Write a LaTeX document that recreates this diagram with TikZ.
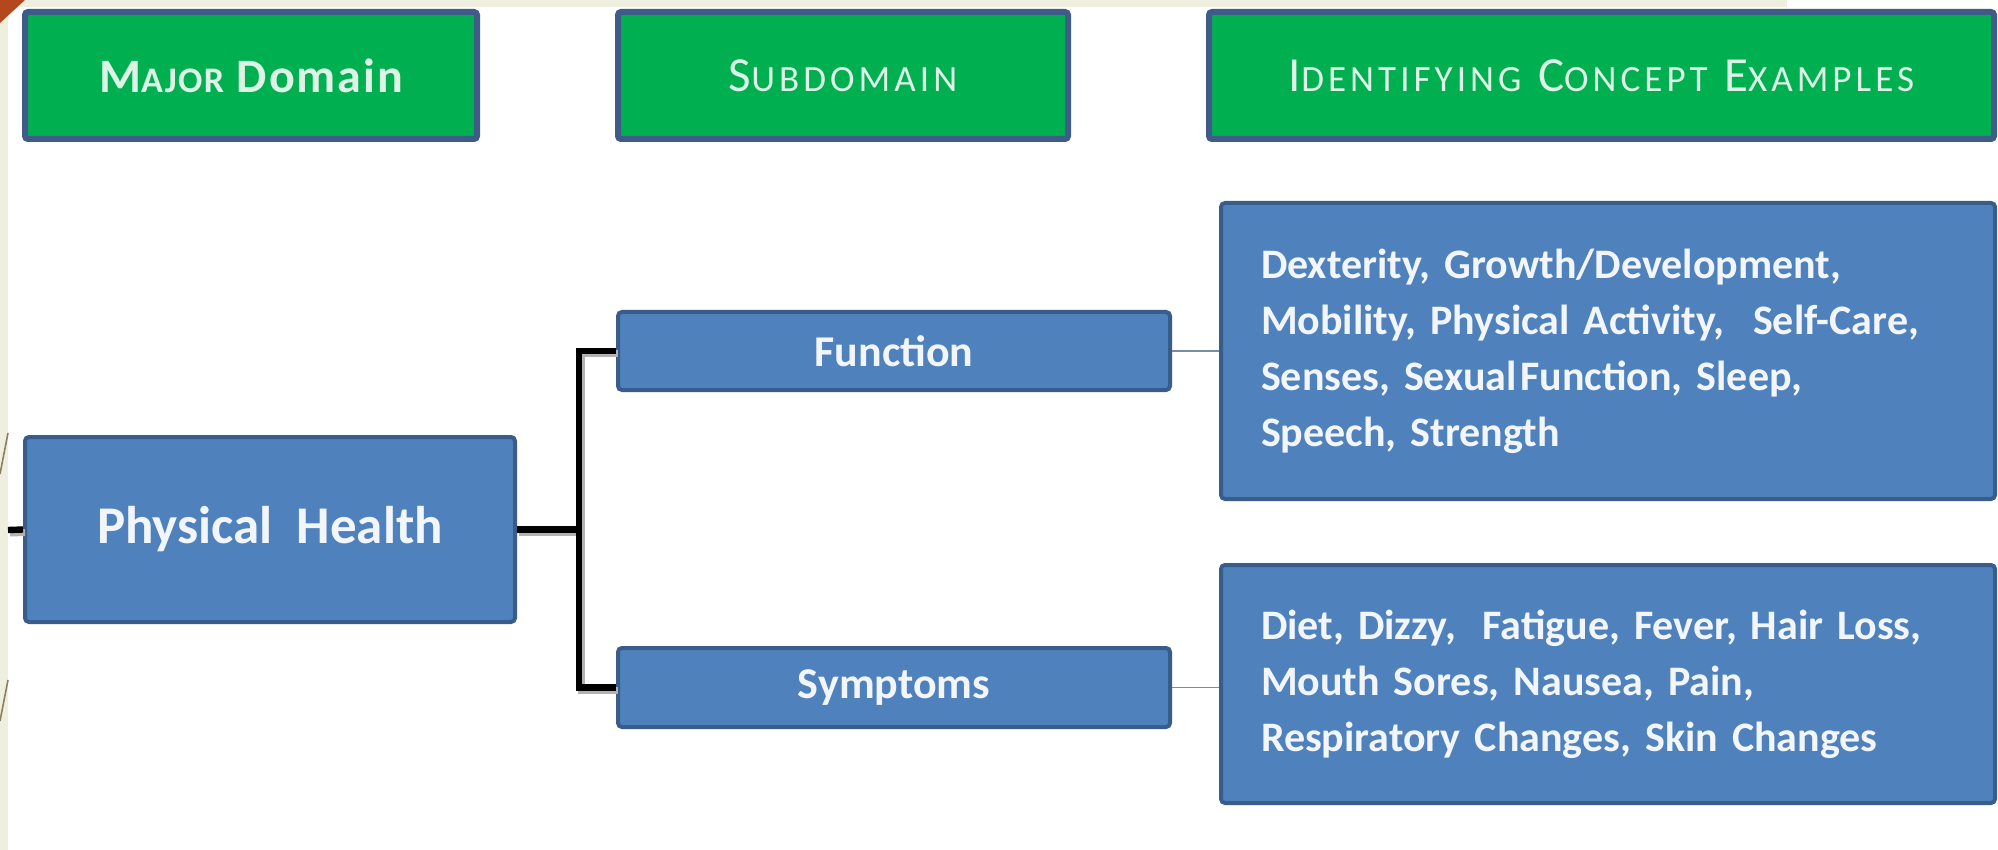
\documentclass[tikz,border=0pt]{standalone}
\usepackage{fontspec}
\setmainfont{Carlito}
\newfontfamily\hdrfont[LetterSpace=11]{Carlito}
\newfontfamily\hdrboldfont[LetterSpace=4]{Carlito Bold}
\usetikzlibrary{calc}
\definecolor{cream}{HTML}{EEEFDF}
\definecolor{rust}{HTML}{B4471C}
\definecolor{hdrgreen}{HTML}{00B050}
\definecolor{hdrline}{HTML}{3E5C87}
\definecolor{boxblue}{HTML}{4F81BD}
\definecolor{boxline}{HTML}{385D8A}
\definecolor{hdrtext}{HTML}{DDF3E6}
\definecolor{boxtext}{HTML}{F2F6FB}
\definecolor{thinline}{HTML}{7A8BA3}
\definecolor{strokeolive}{HTML}{8C7F5E}
\newcommand\hsc[1]{{\fontsize{18.5pt}{20pt}\selectfont #1}}
\begin{document}
\begin{tikzpicture}[x=0.5pt,y=-0.5pt,
  hdr/.style={draw=hdrline, line width=3pt, fill=hdrgreen, rounded corners=1.5pt,
    minimum height=63.5pt, inner sep=0pt, text=hdrtext,
    font=\hdrfont\fontsize{24.5pt}{28pt}\selectfont},
  bluebox/.style={draw=boxline, line width=2pt, fill=boxblue, rounded corners=2pt,
    inner sep=0pt, text=boxtext},
  exbox/.style={bluebox, text width=347pt, inner xsep=20pt, align=left,
    font=\bfseries\fontsize{21pt}{28pt}\selectfont},
  conn/.style={line width=3.2pt, black,
    preaction={draw=black!30, line width=3.5pt, transform canvas={xshift=1pt,yshift=-1.5pt}}},
  thinconn/.style={line width=0.9pt, thinline}
]
\useasboundingbox (0,0) rectangle (1998,850);
\fill[white] (0,0) rectangle (1998,850);
\fill[cream] (0,0) rectangle (8,850);
\fill[cream] (0,0) rectangle (1787,7);
\fill[rust] (0,0) -- (25,0) -- (0,23) -- cycle;
\draw[strokeolive, line width=0.8pt] (0,474) -- (8,433);
\draw[strokeolive, line width=0.8pt] (0,721) -- (8,680);

% headers
\node[hdr, minimum width=226pt, font=\hdrboldfont\fontsize{24pt}{28pt}\selectfont] (md) at (251,75.5)
  {M{\fontsize{18pt}{20pt}\selectfont AJOR} Domain};
\node[hdr, minimum width=225pt] (sd) at (843,75.5) {S\hsc{UBDOMAIN}};
\node[hdr, minimum width=392.5pt] (ice) at (1601.5,75.5) {I\hsc{DENTIFYING} C\hsc{ONCEPT} E\hsc{XAMPLES}};

% main boxes
\node[bluebox, minimum width=245pt, minimum height=92.5pt,
  font=\bfseries\fontsize{26.5pt}{30pt}\selectfont] (ph) at (270,529.5) {Physical\hspace{0.45em}Health};
\node[bluebox, minimum width=276pt, minimum height=39pt,
  font=\bfseries\fontsize{22pt}{26pt}\selectfont] (func) at (894,351) {Function};
\node[bluebox, minimum width=276pt, minimum height=39.5pt,
  font=\bfseries\fontsize{22pt}{26pt}\selectfont] (sym) at (894,687.5) {Symptoms};

\node[exbox, minimum height=148pt] (fex) at (1608,351)
  {Dexterity, Growth/Development,\\
   Mobility, Physical Activity,\hspace{0.35em} Self-Care,\\
   Senses, Sexual\hspace{0.08em}Function, Sleep,\\
   Speech, Strength};
\node[exbox, minimum height=119pt] (sex) at (1608,684)
  {Diet, Dizzy,\hspace{0.3em} Fatigue, Fever, Hair Loss,\\
   Mouth Sores, Nausea, Pain,\\
   Respiratory Changes, Skin Changes};

% connectors
\coordinate (lstub) at (8,530);
\coordinate (bx) at ($(ph.east)+(62,0)$);
\draw[conn] (lstub) -- (ph.west);
\draw[conn] (ph.east) -- (bx) |- (func.west);
\draw[conn] (bx) |- (sym.west);
\draw[thinconn] (func.east) -- (fex.west);
\draw[thinconn] (sym.east) -- (sym.east -| sex.west);
\end{tikzpicture}
\end{document}
